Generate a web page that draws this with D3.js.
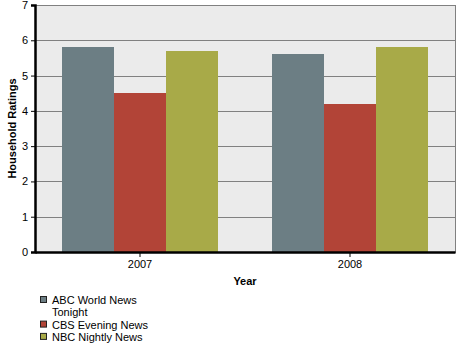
<!DOCTYPE html>
<html>
<head>
<meta charset="utf-8">
<script src="https://cdn.jsdelivr.net/npm/d3@7"></script>
<style>
body { margin: 0; background: #fff; }
text { font-family: "Liberation Sans", Arial, sans-serif; }
</style>
</head>
<body>
<div id="chart"></div>
<script>
// chart data
var years = ["2007", "2008"];
var seriesNames = ["ABC World News Tonight", "CBS Evening News", "NBC Nightly News"];
var abcValues = [5.8, 5.6];
var cbsValues = [4.5, 4.2];
var nbcValues = [5.7, 5.8];
var yTicks = [0, 1, 2, 3, 4, 5, 6, 7];
var colors = ["#6c7e84", "#b24437", "#a8aa48"];

var width = 465, height = 351;
var plotLeft = 35, plotRight = 455, plotTop = 5, plotBottom = 252;
var groupWidth = 156;

var svg = d3.select("#chart").append("svg")
	.attr("width", width)
	.attr("height", height);

var allValues = [abcValues, cbsValues, nbcValues];

var x0 = d3.scaleBand().domain(years).range([plotLeft, plotRight]);
var x1 = d3.scaleBand().domain(d3.range(seriesNames.length)).range([0, groupWidth]);
var y = d3.scaleLinear().domain([0, 7]).range([plotBottom, plotTop]);

// plot background
svg.append("rect")
	.attr("x", plotLeft + 0.5).attr("y", plotTop + 0.5)
	.attr("width", plotRight - plotLeft).attr("height", plotBottom - plotTop)
	.attr("fill", "#ebebeb")
	.attr("stroke", "#808080")
	.attr("stroke-width", 1);

// grid lines
svg.selectAll("line.grid").data(yTicks.slice(1, -1)).enter()
	.append("line")
	.attr("class", "grid")
	.attr("x1", plotLeft).attr("x2", plotRight)
	.attr("y1", function(d){ return Math.round(y(d)) + 0.5; })
	.attr("y2", function(d){ return Math.round(y(d)) + 0.5; })
	.attr("stroke", "#808080");

// bars
var groups = svg.selectAll("g.year").data(years).enter()
	.append("g")
	.attr("class", "year")
	.attr("transform", function(d){
		return "translate(" + (x0(d) + (x0.bandwidth() - groupWidth) / 2) + ",0)";
	});

groups.selectAll("rect").data(function(d, i){
		return allValues.map(function(s, j){ return {s: j, v: s[i]}; });
	}).enter()
	.append("rect")
	.attr("x", function(d){ return x1(d.s); })
	.attr("y", function(d){ return Math.round(y(d.v)); })
	.attr("width", x1.bandwidth())
	.attr("height", function(d){ return plotBottom - Math.round(y(d.v)); })
	.attr("fill", function(d){ return colors[d.s]; });

// y axis
var yAxis = d3.axisLeft(y).tickValues(yTicks).tickFormat(d3.format("d")).tickSize(4).tickPadding(3);
var gy = svg.append("g").attr("transform", "translate(" + plotLeft + ",0)").call(yAxis);
gy.select(".domain").attr("stroke", "#000").attr("stroke-width", 2.5);
gy.selectAll("text").attr("font-size", 11).attr("fill", "#000").attr("font-family", "Liberation Sans, Arial, sans-serif");
gy.selectAll(".tick line").attr("stroke", "#000");

// x axis
var xAxis = d3.axisBottom(x0).tickSize(5).tickSizeOuter(0).tickPadding(3);
var gx = svg.append("g").attr("transform", "translate(0," + plotBottom + ")").call(xAxis);
gx.select(".domain").attr("stroke", "#000").attr("stroke-width", 2.5);
gx.selectAll("text").attr("font-size", 11).attr("fill", "#000").attr("font-family", "Liberation Sans, Arial, sans-serif");
gx.selectAll(".tick line").attr("stroke", "#000");

// axis titles
svg.append("text").text("Year")
	.attr("x", (plotLeft + plotRight) / 2).attr("y", 285)
	.attr("text-anchor", "middle")
	.attr("font-size", 11).attr("font-weight", "bold");

svg.append("text").text("Household Ratings")
	.attr("transform", "translate(16," + ((plotTop + plotBottom) / 2) + ") rotate(-90)")
	.attr("text-anchor", "middle")
	.attr("font-size", 11).attr("font-weight", "bold");

// legend
var legendLines = [["ABC World News", "Tonight"], ["CBS Evening News"], ["NBC Nightly News"]];
var ly = 304;
legendLines.forEach(function(lines, i){
	svg.append("rect")
		.attr("x", 40.5).attr("y", ly - 7.5)
		.attr("width", 6).attr("height", 6)
		.attr("fill", colors[i])
		.attr("stroke", "#222");
	lines.forEach(function(t, k){
		svg.append("text").text(t)
			.attr("x", 52).attr("y", ly + k * 12.3)
			.attr("font-size", 11).attr("fill", "#000");
	});
	ly += lines.length * 12.3;
});
</script>
</body>
</html>
